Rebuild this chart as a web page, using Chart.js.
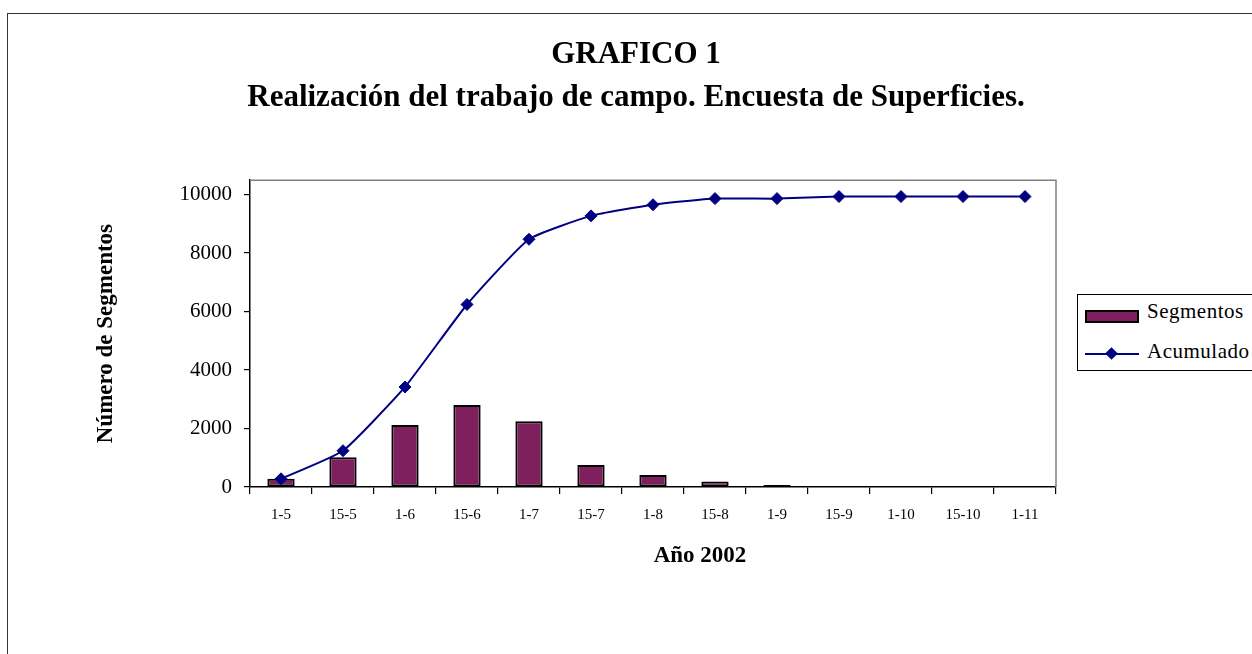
<!DOCTYPE html>
<html>
<head>
<meta charset="utf-8">
<script src="https://cdn.jsdelivr.net/npm/chart.js@4"></script>
<style>
    html, body { margin: 0; padding: 0; background: #fff; overflow: hidden; }
    #wrap { position: relative; width: 1252px; height: 654px; }
    #frame {
        position: absolute; left: 7px; top: 13px; width: 1300px; height: 700px;
        border-left: 1px solid #333; border-top: 1px solid #333;
    }
    #chart { position: absolute; left: 0; top: 0; }
    #legend {
        position: absolute; left: 1077px; top: 294px; width: 200px; height: 75px;
        border: 1px solid #000; background: #fff;
        font-family: 'Liberation Serif', 'Times New Roman', serif; font-size: 21px;
    }
    .swatch {
        position: absolute; left: 7px; top: 15px; width: 50px; height: 9px;
        background: #7e1f5e; border: 2px solid #000;
    }
    .lineSample { position: absolute; left: 7px; top: 58px; width: 54px; height: 2px; background: #000080; }
    .diamond {
        position: absolute; left: 29px; top: 54px; width: 9px; height: 9px;
        background: #000080; transform: rotate(45deg);
    }
    .label { position: absolute; left: 69px; letter-spacing: 0.5px; }
</style>
</head>
<body>
<div id="wrap">
    <div id="frame"></div>
    <canvas id="chart" width="1252" height="654"></canvas>
    <div id="legend">
        <div class="swatch"></div>
        <div class="label" style="top: 4px;">Segmentos</div>
        <div class="lineSample"></div>
        <div class="diamond"></div>
        <div class="label" style="top: 44px;">Acumulado</div>
    </div>
</div>
<script>
const fechas = ['1-5', '15-5', '1-6', '15-6', '1-7', '15-7', '1-8', '15-8', '1-9', '15-9', '1-10', '15-10', '1-11'];
const segmentos = [280, 1020, 2120, 2800, 2250, 750, 410, 190, 70, 0, 0, 0, 0];
const acumulado = [280, 1240, 3420, 6240, 8470, 9270, 9650, 9860, 9860, 9930, 9930, 9930, 9930];
const yTicks = [0, 2000, 4000, 6000, 8000, 10000];

const serif = "'Liberation Serif', 'Times New Roman', serif";

// gray top/right edge of the plot area, like the Excel original
const plotFrame = {
    id: 'plotFrame',
    beforeDatasetsDraw(chart) {
        const { ctx, chartArea } = chart;
        ctx.save();
        ctx.strokeStyle = '#808080';
        ctx.lineWidth = 1.5;
        ctx.beginPath();
        ctx.moveTo(chartArea.left, chartArea.top);
        ctx.lineTo(chartArea.right, chartArea.top);
        ctx.lineTo(chartArea.right, chartArea.bottom);
        ctx.stroke();
        ctx.restore();
    }
};

// x axis title sits right of centre in the original
const xTitle = {
    id: 'xTitle',
    afterDraw(chart) {
        const ctx = chart.ctx;
        ctx.save();
        ctx.font = 'bold 23px ' + serif;
        ctx.fillStyle = '#000';
        ctx.textAlign = 'center';
        ctx.textBaseline = 'alphabetic';
        ctx.fillText('Año 2002', 700, 562);
        ctx.restore();
    }
};

new Chart(document.getElementById('chart'), {
    data: {
        labels: fechas,
        datasets: [
            {
                type: 'line',
                label: 'Acumulado',
                data: acumulado,
                borderColor: '#000080',
                backgroundColor: '#000080',
                borderWidth: 2,
                tension: 0.15,
                pointStyle: 'rectRot',
                pointRadius: 6,
                pointBorderWidth: 1,
                order: 0
            },
            {
                type: 'bar',
                label: 'Segmentos',
                data: segmentos,
                backgroundColor: '#7e1f5e',
                borderColor: '#000',
                borderWidth: 2,
                borderSkipped: false,
                barPercentage: 0.44,
                categoryPercentage: 1,
                order: 1
            }
        ]
    },
    options: {
        responsive: false,
        animation: false,
        layout: { padding: { left: 20, top: 0, right: 0, bottom: 0 } },
        plugins: {
            legend: { display: false },
            tooltip: { enabled: false },
            title: {
                display: true,
                text: ['GRAFICO 1', 'Realización del trabajo de campo. Encuesta de Superficies.'],
                color: '#000',
                font: { family: serif, size: 31, weight: 'bold', lineHeight: 1.39 },
                padding: { top: 33, bottom: 61 }
            }
        },
        scales: {
            x: {
                offset: true,
                grid: {
                    offset: true,
                    drawOnChartArea: false,
                    drawTicks: true,
                    tickLength: 7,
                    color: '#000',
                    lineWidth: 1.2
                },
                border: { color: '#000', width: 1.5 },
                ticks: {
                    color: '#000',
                    font: { family: serif, size: 15 },
                    padding: 12,
                    maxRotation: 0,
                    autoSkip: false
                },
                afterFit(scale) { scale.height = 167; }
            },
            y: {
                min: 0,
                max: 10490,
                grid: {
                    drawOnChartArea: false,
                    drawTicks: true,
                    tickLength: 6,
                    color: '#000',
                    lineWidth: 1.2
                },
                border: { color: '#000', width: 1.5 },
                ticks: {
                    color: '#000',
                    font: { family: serif, size: 21 },
                    padding: 12,
                    callback: v => String(v)
                },
                afterBuildTicks(scale) {
                    scale.ticks = yTicks.map(v => ({ value: v }));
                },
                title: {
                    display: true,
                    text: 'Número de Segmentos',
                    color: '#000',
                    font: { family: serif, size: 23, weight: 'bold' },
                    padding: { top: 72, bottom: 0 }
                },
                afterFit(scale) { scale.width = 230; }
            },
            blank: {
                position: 'right',
                display: true,
                grid: { display: false },
                border: { display: false },
                ticks: { display: false },
                afterFit(scale) { scale.width = 196; }
            }
        }
    },
    plugins: [plotFrame, xTitle]
});
</script>
</body>
</html>
